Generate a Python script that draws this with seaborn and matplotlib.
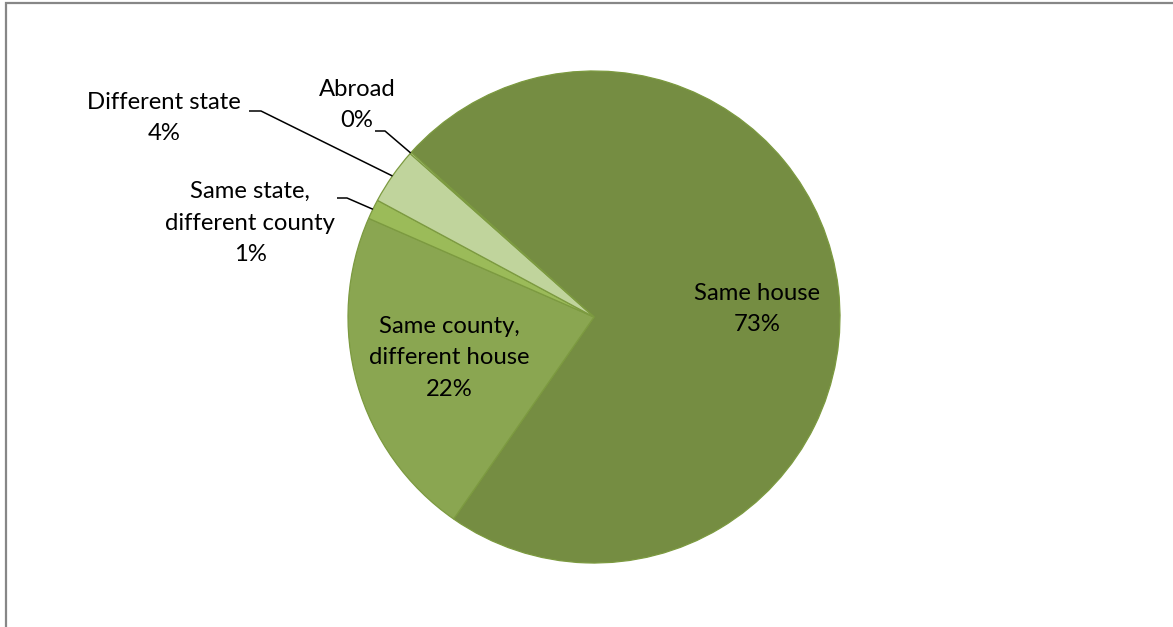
import matplotlib
matplotlib.use("Agg")
import matplotlib.pyplot as plt
from matplotlib.patches import Rectangle
import numpy as np
import seaborn as sns

# Residence one year ago (share of population, %)
categories = ["Same house", "Same county,\ndifferent house", "Same state,\ndifferent county",
              "Different state", "Abroad"]
shares = [73.0, 21.9, 1.3, 3.7, 0.1]
colors = ["#758D42", "#8AA651", "#9BBB59", "#C0D49C", "#D8E4BC"]

sns.set_theme(style="white")
plt.rcParams["font.family"] = ["Lato", "DejaVu Sans"]

W, H, DPI = 1173, 627, 100
fig = plt.figure(figsize=(W / DPI, H / DPI), dpi=DPI)
ax = fig.add_axes([0, 0, 1, 1])

# pixel layout helpers: pie centre and radius in pixels
CX, CY, R = 594, 317, 246


def px(x, y):
    return (x - CX) / R, (CY - y) / R


wedges, _ = ax.pie(shares, colors=colors, startangle=138, counterclock=False,
                   radius=1.0, center=(0, 0), frame=True,
                   wedgeprops=dict(edgecolor="#7C9A40", linewidth=0.9))
ax.set_xlim(-CX / R, (W - CX) / R)
ax.set_ylim(-(H - CY) / R, CY / R)
ax.set_aspect("auto")
ax.axis("off")

labels = [f"{c}\n{round(v):.0f}%" for c, v in zip(categories, shares)]

# label centres (pixels) and leader start / elbow points (pixels)
label_pos = [(757, 309), (449, 358), (250, 223), (164, 118), (357, 105)]
leaders = {2: ((337, 198), (347, 198)),
           3: ((249, 111), (261, 111)),
           4: ((375, 131), (385, 131))}

fs = 17.2
for i, (lab, (lx, ly)) in enumerate(zip(labels, label_pos)):
    ax.text(*px(lx, ly), lab, ha="center", va="center", fontsize=fs,
            color="#000000", linespacing=1.62)

for i, (p0, p1) in leaders.items():
    w = wedges[i]
    mid = np.deg2rad((w.theta1 + w.theta2) / 2)
    end = (np.cos(mid), np.sin(mid))
    x0, y0 = px(*p0)
    x1, y1 = px(*p1)
    ax.plot([x0, x1, end[0]], [y0, y1, end[1]], color="black", lw=1.1,
            solid_capstyle="butt", zorder=5)

# chart area border (left and top edges visible)
fig.add_artist(Rectangle((6 / W, -0.05), 1.2, (H - 3) / H + 0.05,
                         transform=fig.transFigure, fill=False,
                         edgecolor="#878787", linewidth=1.6))

fig.savefig("out.png", dpi=DPI, facecolor="white")
